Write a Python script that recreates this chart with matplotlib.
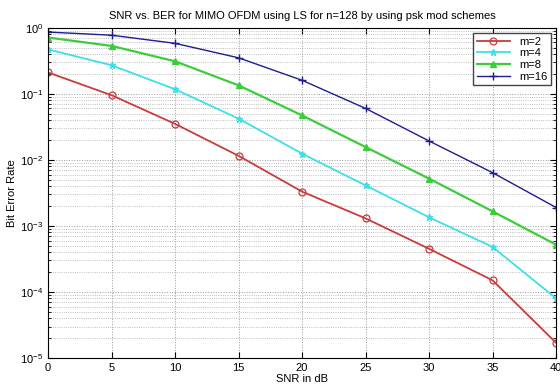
import numpy as np
import matplotlib.pyplot as plt

plt.rcParams['font.family'] = ['Liberation Sans', 'DejaVu Sans']

snr = [0, 5, 10, 15, 20, 25, 30, 35, 40]
ber_m2 = [0.21, 0.095, 0.035, 0.0115, 0.0033, 0.0013, 0.00045, 0.00015, 1.7e-5]
ber_m4 = [0.47, 0.27, 0.117, 0.042, 0.0124, 0.0041, 0.00135, 0.00048, 8e-5]
ber_m8 = [0.71, 0.53, 0.31, 0.134, 0.047, 0.0156, 0.0052, 0.00166, 0.00052]
ber_m16 = [0.86, 0.77, 0.58, 0.35, 0.16, 0.06, 0.0193, 0.0064, 0.0019]

fig = plt.figure(figsize=(5.6, 3.85), dpi=100)
ax = fig.add_axes([0.086, 0.07, 0.907, 0.858])

ax.semilogy(snr, ber_m2, '-o', color='#c83c3c', lw=1.3, ms=5, mfc='none', mew=0.9, label='m=2')
ax.semilogy(snr, ber_m4, '-*', color='#3ee0e6', lw=1.3, ms=5, label='m=4')
ax.semilogy(snr, ber_m8, '-^', color='#3ccc3c', lw=1.6, ms=5, label='m=8')
ax.semilogy(snr, ber_m16, '-+', color='#1e1e8c', lw=1.0, ms=6, label='m=16')

ax.set_xlim(0, 40)
ax.set_ylim(1e-5, 1)
ax.set_xticks(snr)
ax.grid(True, which='major', ls=':', color='#999999', lw=0.7)
ax.grid(True, which='minor', axis='y', ls=':', color='#aaaaaa', lw=0.6)
ax.tick_params(which='both', direction='in', labelsize=8, top=True, right=True)
ax.tick_params(which='major', length=4)
ax.tick_params(which='minor', length=2)

ax.set_title('SNR vs. BER for MIMO OFDM using LS for n=128 by using psk mod schemes', fontsize=8)
ax.set_xlabel('SNR in dB', fontsize=8, labelpad=1)
ax.set_ylabel('Bit Error Rate', fontsize=8, labelpad=2)

leg = ax.legend(loc='upper right', fontsize=8, fancybox=False, framealpha=1,
                edgecolor='#444444', handlelength=3, borderpad=0.3, labelspacing=0.15)

fig.savefig('out.png', dpi=100)
